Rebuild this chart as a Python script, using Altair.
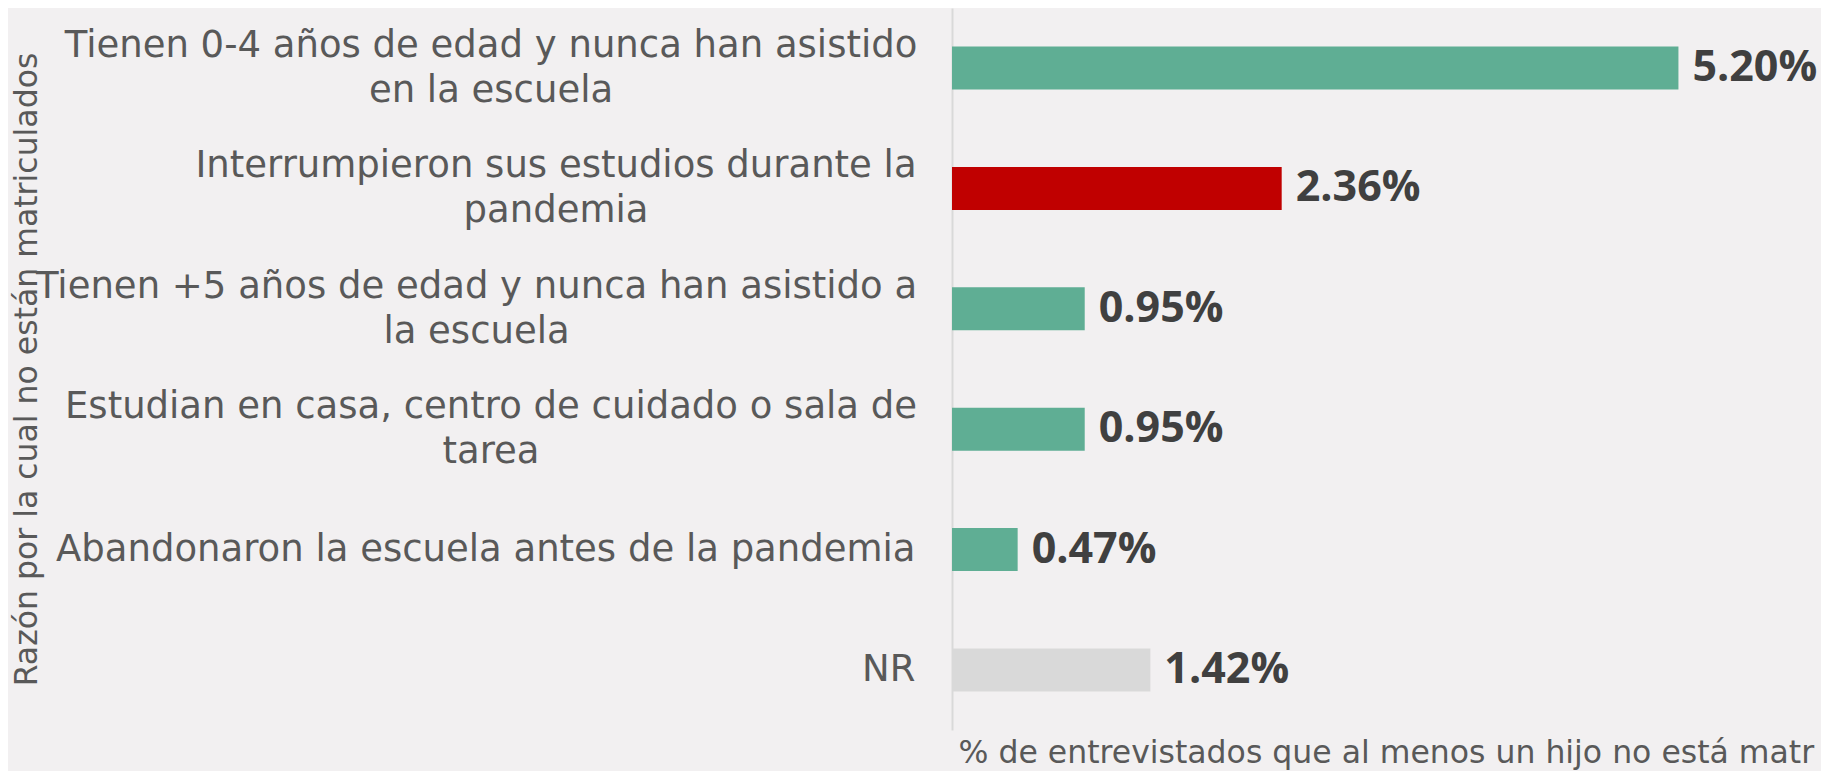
import altair as alt
import pandas as pd

# ---- data ----
line1 = [
    "Tienen 0-4 años de edad y nunca han asistido",
    "Interrumpieron sus estudios durante la",
    "Tienen +5 años de edad y nunca han asistido a",
    "Estudian en casa, centro de cuidado o sala de",
    "Abandonaron la escuela antes de la pandemia",
    "NR",
]
line2 = ["en la escuela", "pandemia", "la escuela", "tarea", "", ""]
values = [5.20, 2.36, 0.95, 0.95, 0.47, 1.42]
groups = ["base", "highlight", "base", "base", "base", "nr"]

labels = [a + ("\n" + b if b else "") for a, b in zip(line1, line2)]
df = pd.DataFrame({"reason": labels, "value": values, "group": groups})

# ---- layout ----
W, H = 869, 722
PX_PER_UNIT = 139.7
xmax = W / PX_PER_UNIT
BASE_PAD = 37
# half-widths (px) of the first line of each two-line label, so that the
# centred block keeps its right edge at the same place
half_w = [424.5, 359.5, 439.0, 424.5]

pad_conditions = [
    {"test": f"indexof(datum.value, '{line1[i]}') === 0", "value": BASE_PAD + half_w[i]}
    for i in range(4)
]
multi_test = "indexof(datum.value, '\\n') >= 0"

color_scale = alt.Scale(
    domain=["base", "highlight", "nr"],
    range=["#5fae94", "#c00000", "#d9d9d9"],
)

y_enc = alt.Y(
    "reason:N",
    sort=labels,
    scale=alt.Scale(paddingInner=0.643, paddingOuter=0.32),
    axis=alt.Axis(
        title="Razón por la cual no están matriculados",
        titleFont="DejaVu Sans",
        titleFontSize=31.5,
        titleFontWeight="normal",
        titleColor="#595959",
        titleAngle=270,
        titleAlign="center",
        titleBaseline="alphabetic",
        titleX=-916,
        titleY=H / 2,
        labelFont="DejaVu Sans",
        labelFontSize=37,
        labelColor="#595959",
        labelLimit=2000,
        labelPadding={"condition": pad_conditions, "value": BASE_PAD},
        labelAlign={"condition": {"test": multi_test, "value": "center"}, "value": "right"},
        labelOffset={"condition": {"test": multi_test, "value": -22}, "value": 0},
        labelLineHeight=45,
        labelOverlap=False,
        labelExpr="split(datum.label, '\\n')",
        ticks=False,
        tickSize=0,
        domain=True,
        domainColor="#d9d9d9",
        domainWidth=2,
        grid=False,
    ),
)

x_enc = alt.X(
    "value:Q",
    scale=alt.Scale(domain=[0, xmax], nice=False, zero=True),
    axis=alt.Axis(
        title="% de entrevistados que al menos un hijo no está matr",
        titleFont="DejaVu Sans",
        titleFontSize=31.5,
        titleFontWeight="normal",
        titleColor="#595959",
        titleAnchor="start",
        titleAlign="left",
        titleBaseline="alphabetic",
        titleX=6,
        titleY=32,
        labels=False,
        ticks=False,
        domain=False,
        grid=False,
    ),
)

bars = alt.Chart(df).mark_bar().encode(
    y=y_enc,
    x=x_enc,
    color=alt.Color("group:N", scale=color_scale, legend=None),
)

text = (
    alt.Chart(df)
    .transform_calculate(txt="format(datum.value, '.2f') + '%'")
    .mark_text(
        align="left",
        baseline="middle",
        dx=14,
        font="Open Sans",
        fontWeight="bold",
        fontSize=43,
        color="#404040",
    )
    .encode(
        y=alt.Y("reason:N", sort=labels),
        x=alt.X("value:Q"),
        text="txt:N",
    )
)

chart = (
    alt.layer(bars, text)
    .properties(
        width=W,
        height=H,
        background="#f2f0f1",
        autosize=alt.AutoSizeParams(type="none"),
        padding={"left": 944, "top": 0, "right": 0, "bottom": 41},
    )
    .configure_view(stroke=None)
)

chart.save("out.html", embed_options={"renderer": "svg", "actions": False})
